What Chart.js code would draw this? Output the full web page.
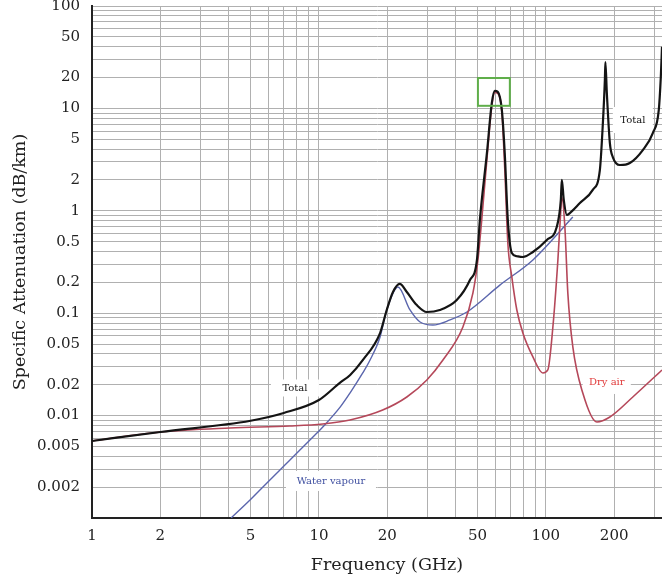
<!DOCTYPE html>
<html>
<head>
<meta charset="utf-8">
<script src="https://cdn.jsdelivr.net/npm/chart.js@4.4.0/dist/chart.umd.min.js"></script>
<style>
  html, body { margin: 0; padding: 0; background: #fff; }
  #wrap { width: 662px; height: 581px; position: relative; }
</style>
</head>
<body>
<div id="wrap"><canvas id="atten"></canvas></div>
<script>
// frequency in GHz, specific attenuation in dB/km
const totalFreq = [1, 2, 5, 7, 10, 12.4, 13.7, 15.6, 18.6, 19.9, 21.2, 22.7, 24.4, 27, 29.9, 34.1, 40.5, 46.3, 49.7, 51.2, 55, 57.8, 59.6, 61.4, 64, 65.9, 68, 70.8, 74.5, 79.2, 87.7, 101, 111.7, 116.4, 117.6, 120, 123.8, 127.6, 141.3, 161, 173, 178, 182, 183, 185.7, 191.5, 197.3, 211.8, 234.5, 267.5, 296, 314.5, 321, 325];
const totalAtten = [0.00565, 0.00692, 0.0089, 0.0106, 0.0142, 0.021, 0.0248, 0.0348, 0.064, 0.1075, 0.161, 0.193, 0.161, 0.12, 0.1027, 0.1075, 0.1345, 0.211, 0.331, 0.813, 3.67, 11.3, 14.8, 14.5, 9.6, 3.67, 0.81, 0.387, 0.36, 0.354, 0.396, 0.519, 0.695, 1.27, 2.0, 1.27, 0.91, 0.95, 1.19, 1.6, 2.5, 6.58, 18.9, 28.4, 14.1, 4.59, 3.35, 2.8, 2.93, 3.92, 5.75, 9.64, 20, 40];

const dryFreq = [1, 2, 4.05, 7.45, 10.4, 13.7, 19.1, 24.4, 29.9, 35.2, 43.1, 47.7, 50.2, 52, 55, 57.8, 59.6, 61.4, 64, 65.9, 68, 70.8, 74.5, 79.2, 87.7, 97, 102, 107.4, 113, 116.4, 117.6, 121.3, 125, 131.5, 145.5, 167.8, 191.5, 241.7, 325];
const dryAtten = [0.00565, 0.00692, 0.00757, 0.00791, 0.00828, 0.00906, 0.01134, 0.0152, 0.0223, 0.0349, 0.0733, 0.157, 0.331, 0.75, 3.2, 10.5, 14.3, 14.0, 9.2, 2.6, 0.485, 0.226, 0.1075, 0.064, 0.0374, 0.0261, 0.0279, 0.0733, 0.331, 1.02, 1.36, 0.695, 0.157, 0.0468, 0.0166, 0.00866, 0.00969, 0.0152, 0.0279];

const vapourFreq = [4.1, 4.97, 5.9, 6.94, 8.0, 9.8, 10.4, 12.4, 13.7, 15.6, 16.8, 18.6, 19.9, 22.3, 25.2, 27.9, 31.8, 37.8, 44.9, 62.7, 87.7, 131.5];
const vapourAtten = [0.001, 0.0015, 0.0022, 0.00315, 0.00431, 0.00676, 0.00774, 0.0121, 0.0166, 0.0261, 0.0349, 0.0586, 0.1075, 0.18, 0.1075, 0.082, 0.0767, 0.0859, 0.1027, 0.188, 0.331, 0.869];

// labelled ticks; every 1..9 multiple still gets a grid line
const xLabels = [1, 2, 5, 10, 20, 50, 100, 200];
const yLabels = [0.002, 0.005, 0.01, 0.02, 0.05, 0.1, 0.2, 0.5, 1, 2, 5, 10, 20, 50, 100];

// curve names placed on the plot
const notes = [
  { text: 'Total', f: 7.84, a: 0.0186, color: '#111111', w: 48, h: 17 },
  { text: 'Total', f: 241.7, a: 7.7, color: '#111111', w: 40, h: 26 },
  { text: 'Dry air', f: 185.6, a: 0.0213, color: '#e03a3a', w: 48, h: 24 },
  { text: 'Water vapour', f: 11.3, a: 0.0023, color: '#3f4fa0', w: 90, h: 20 }
];
const boxFreq = [50.2, 69.4];
const boxAtten = [10.6, 19.8];

function decadeTicks(lo, hi) {
  const out = [];
  for (let d = lo; d <= hi; d++) {
    for (let m = 1; m <= 9; m++) {
      out.push(Number((m * Math.pow(10, d)).toPrecision(3)));
    }
  }
  return out;
}
const xGrid = decadeTicks(0, 2).filter(v => v <= 300);
const yGrid = decadeTicks(-3, 2).filter(v => v <= 100);

const toPoints = (xs, ys) => xs.map((x, i) => ({ x: x, y: ys[i] }));

const serif = 'DejaVu Serif';

const notesPlugin = {
  id: 'notes',
  beforeDatasetsDraw(chart) {
    const { ctx, scales } = chart;
    ctx.save();
    ctx.font = '10px "' + serif + '"';
    ctx.textAlign = 'center';
    ctx.textBaseline = 'middle';
    notes.forEach(n => {
      const px = scales.x.getPixelForValue(n.f);
      const py = scales.y.getPixelForValue(n.a);
      ctx.fillStyle = '#ffffff';
      ctx.fillRect(px - n.w / 2, py - n.h / 2, n.w, n.h);
      ctx.fillStyle = n.color;
      ctx.fillText(n.text, px, py);
    });
    ctx.restore();
  },
  afterDatasetsDraw(chart) {
    const { ctx, scales } = chart;
    const x0 = scales.x.getPixelForValue(boxFreq[0]);
    const x1 = scales.x.getPixelForValue(boxFreq[1]);
    const y0 = scales.y.getPixelForValue(boxAtten[1]);
    const y1 = scales.y.getPixelForValue(boxAtten[0]);
    ctx.save();
    ctx.strokeStyle = '#5fae4a';
    ctx.lineWidth = 2;
    ctx.strokeRect(x0, y0, x1 - x0, y1 - y0);
    ctx.restore();
  },
  afterDraw(chart) {
    const { ctx, chartArea } = chart;
    ctx.save();
    ctx.font = '17.5px "' + serif + '"';
    ctx.fillStyle = '#222';
    ctx.textAlign = 'center';
    ctx.textBaseline = 'middle';
    ctx.fillText('Frequency (GHz)', (chartArea.left + chartArea.right) / 2 + 10, 565);
    ctx.restore();
  }
};

new Chart(document.getElementById('atten'), {
  type: 'line',
  data: {
    datasets: [
      {
        label: 'Total',
        data: toPoints(totalFreq, totalAtten),
        borderColor: '#141414',
        borderWidth: 2.2
      },
      {
        label: 'Dry air',
        data: toPoints(dryFreq, dryAtten),
        borderColor: '#b5485a',
        borderWidth: 1.6
      },
      {
        label: 'Water vapour',
        data: toPoints(vapourFreq, vapourAtten),
        borderColor: '#5b66ad',
        borderWidth: 1.4
      }
    ]
  },
  options: {
    responsive: true,
    maintainAspectRatio: false,
    animation: false,
    elements: {
      point: { radius: 0 },
      line: { cubicInterpolationMode: 'monotone', fill: false }
    },
    layout: { padding: { top: 6, right: 0, bottom: 0, left: 0 } },
    scales: {
      x: {
        type: 'logarithmic',
        min: 1,
        max: 325,
        afterBuildTicks: scale => { scale.ticks = xGrid.map(v => ({ value: v })); },
        afterFit: scale => { scale.height = 63; scale.paddingRight = 0; },
        grid: { color: '#b0b0b0', lineWidth: 1, drawTicks: false },
        border: { display: true, color: '#222', width: 2 },
        ticks: {
          autoSkip: false,
          maxRotation: 0,
          minRotation: 0,
          padding: 9,
          color: '#222',
          font: { family: serif, size: 15 },
          callback: value => xLabels.includes(value) ? String(value) : ''
        }
      },
      y: {
        type: 'logarithmic',
        min: 0.001,
        max: 100,
        afterBuildTicks: scale => { scale.ticks = yGrid.map(v => ({ value: v })); },
        // label padding would otherwise push the plot top down
        afterFit: scale => { scale.width = 92; scale.paddingTop = 0; scale.paddingBottom = 0; },
        grid: { color: '#b0b0b0', lineWidth: 1, drawTicks: false },
        border: { display: true, color: '#222', width: 2 },
        title: {
          display: true,
          text: 'Specific Attenuation (dB/km)',
          color: '#222',
          font: { family: serif, size: 17.5 },
          padding: { top: 10, bottom: 0 }
        },
        ticks: {
          autoSkip: false,
          padding: 12,
          color: '#222',
          font: { family: serif, size: 15 },
          callback: value => yLabels.includes(value) ? String(value) : ''
        }
      }
    },
    plugins: {
      legend: { display: false },
      tooltip: { enabled: false }
    }
  },
  plugins: [notesPlugin]
});
</script>
</body>
</html>
